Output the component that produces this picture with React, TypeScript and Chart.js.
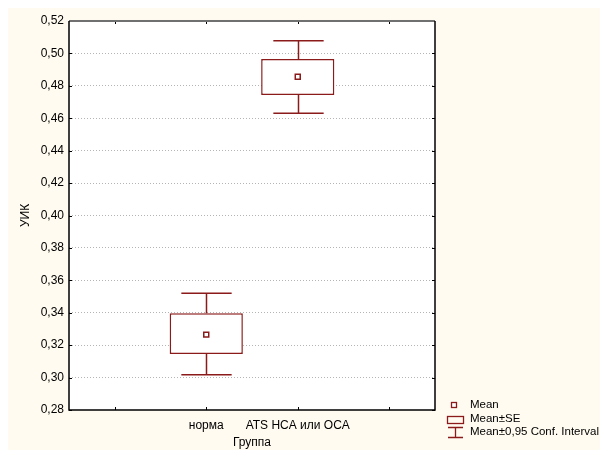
import React, { useEffect, useRef } from "react";
import { Chart, registerables } from "chart.js";

Chart.register(...registerables);

// ---- data ----
const categories = ["", "норма", "ATS HCA или OCA", ""];
const means = [null, 0.3265, 0.4856, null];
const seLow = [null, 0.3145, 0.4743, null];
const seHigh = [null, 0.3397, 0.4965, null];
const ciLow = [null, 0.3018, 0.4631, null];
const ciHigh = [null, 0.352, 0.5078, null];
const yMin = 0.28;
const yMax = 0.52;
const yStep = 0.02;
const legendLabels = ["Mean", "Mean±SE", "Mean±0,95 Conf. Interval"];
const xTitle = "Группа";
const yTitle = "УИК";

const RED = "#8B1A1A";
const FONT = 'Arial, "Liberation Sans", sans-serif';
const BG = "#FFFBF0";

const statPlugin = {
  id: "statPlugin",
  beforeDraw(chart: any) {
    const { ctx, chartArea: a, width, height } = chart;
    ctx.save();
    ctx.fillStyle = BG;
    ctx.fillRect(0, 0, width, height);
    ctx.fillStyle = "#ffffff";
    ctx.fillRect(a.left, a.top, a.right - a.left, a.bottom - a.top);
    ctx.restore();
  },
  afterDatasetsDraw(chart: any) {
    const { ctx } = chart;
    const xs = chart.scales.x;
    const ys = chart.scales.y;
    const catW = (xs.right - xs.left) / categories.length;
    const capHalf = (catW * 0.55) / 2;
    ctx.save();
    ctx.strokeStyle = RED;
    ctx.lineWidth = 1.5;
    for (let i = 0; i < categories.length; i++) {
      if (ciLow[i] == null || ciHigh[i] == null) continue;
      const x = Math.round(xs.getPixelForValue(i)) + 0.5;
      const yHi = ys.getPixelForValue(ciHigh[i]);
      const yLo = ys.getPixelForValue(ciLow[i]);
      const ySeHi = ys.getPixelForValue(seHigh[i]);
      const ySeLo = ys.getPixelForValue(seLow[i]);
      ctx.beginPath();
      ctx.moveTo(x, ySeHi);
      ctx.lineTo(x, yHi);
      ctx.moveTo(x - capHalf, yHi);
      ctx.lineTo(x + capHalf, yHi);
      ctx.moveTo(x, ySeLo);
      ctx.lineTo(x, yLo);
      ctx.moveTo(x - capHalf, yLo);
      ctx.lineTo(x + capHalf, yLo);
      ctx.stroke();
    }
    ctx.restore();
  },
  afterDraw(chart: any) {
    const { ctx, chartArea: a } = chart;
    const xs = chart.scales.x;
    const ys = chart.scales.y;
    ctx.save();
    // inward tick marks
    ctx.strokeStyle = "#000";
    ctx.lineWidth = 1;
    ctx.beginPath();
    for (let i = 0; i < categories.length; i++) {
      const x = Math.round(xs.getPixelForValue(i)) + 0.5;
      ctx.moveTo(x, a.bottom);
      ctx.lineTo(x, a.bottom - 3);
      ctx.moveTo(x, a.top);
      ctx.lineTo(x, a.top + 3);
    }
    ys.ticks.forEach((t: any) => {
      const y = Math.round(ys.getPixelForValue(t.value)) + 0.5;
      ctx.moveTo(a.left, y);
      ctx.lineTo(a.left + 3, y);
      ctx.moveTo(a.right, y);
      ctx.lineTo(a.right - 3, y);
    });
    ctx.stroke();
    // frame
    ctx.strokeStyle = "#707070";
    ctx.lineWidth = 2;
    ctx.beginPath();
    ctx.moveTo(a.left, a.top);
    ctx.lineTo(a.right, a.top);
    ctx.stroke();
    ctx.strokeStyle = "#000";
    ctx.lineWidth = 1.5;
    ctx.beginPath();
    ctx.moveTo(a.left, a.top);
    ctx.lineTo(a.left, a.bottom);
    ctx.lineTo(a.right, a.bottom);
    ctx.lineTo(a.right, a.top);
    ctx.stroke();

    // legend
    const tx = 462;
    const rows = [397, 411, 424];
    ctx.strokeStyle = RED;
    ctx.lineWidth = 1.3;
    ctx.fillStyle = "#fff";
    // Mean marker
    ctx.fillRect(443.5, 394.5, 5, 5);
    ctx.strokeRect(443.5, 394.5, 5, 5);
    // SE box
    ctx.strokeRect(439.5, 408.5, 16, 7);
    // CI whisker
    ctx.beginPath();
    ctx.moveTo(440, 419.5);
    ctx.lineTo(455, 419.5);
    ctx.moveTo(447.5, 419.5);
    ctx.lineTo(447.5, 429.5);
    ctx.moveTo(440, 429.5);
    ctx.lineTo(455, 429.5);
    ctx.stroke();
    ctx.fillStyle = "#000";
    ctx.font = "11.5px " + FONT;
    ctx.textAlign = "left";
    ctx.textBaseline = "middle";
    legendLabels.forEach((l, i) => ctx.fillText(l, tx, rows[i]));
    ctx.restore();
  },
};

export default function App() {
  const ref = useRef<HTMLCanvasElement | null>(null);
  useEffect(() => {
    if (!ref.current) return;
    const chart = new Chart(ref.current, {
      type: "bar",
      data: {
        labels: categories,
        datasets: [
          {
            type: "line",
            label: legendLabels[0],
            data: means as any,
            showLine: false,
            pointStyle: "rect",
            pointRadius: 3.5,
            pointBorderWidth: 1.5,
            pointBackgroundColor: "#fff",
            pointBorderColor: RED,
            order: 0,
          } as any,
          {
            type: "bar",
            label: legendLabels[1],
            data: categories.map((_, i) =>
              seLow[i] == null ? null : [seLow[i], seHigh[i]]
            ) as any,
            backgroundColor: "#fff",
            borderColor: RED,
            borderWidth: 1.5,
            borderSkipped: false,
            barPercentage: 0.8,
            categoryPercentage: 1,
            order: 1,
          } as any,
        ],
      },
      options: {
        animation: false,
        responsive: false,
        events: [],
        layout: { padding: { top: 13, right: 165, left: 0, bottom: 0 } },
        plugins: { legend: { display: false }, tooltip: { enabled: false } },
        scales: {
          x: {
            type: "category",
            offset: true,
            grid: { display: false, drawTicks: false },
            border: { display: false },
            ticks: {
              color: "#000",
              font: { family: FONT, size: 12 },
              padding: 8,
              maxRotation: 0,
              autoSkip: false,
            },
            title: {
              display: true,
              text: xTitle,
              color: "#000",
              font: { family: FONT, size: 12 },
              padding: { top: 0, bottom: 0 },
            },
            afterFit: (s: any) => {
              s.height = 40;
            },
          },
          y: {
            min: yMin,
            max: yMax,
            grid: {
              drawTicks: false,
              color: (c: any) => {
                const v = c.tick ? c.tick.value : 0;
                return Math.abs(v - yMin) < 1e-6 || Math.abs(v - yMax) < 1e-6
                  ? "rgba(0,0,0,0)"
                  : "#b4b4b4";
              },
              lineWidth: 1,
            },
            border: { display: false, dash: [1, 2] },
            ticks: {
              stepSize: yStep,
              color: "#000",
              font: { family: FONT, size: 12 },
              padding: 5,
              callback: (v: any) => Number(v).toFixed(2).replace(".", ","),
            },
            title: {
              display: true,
              text: yTitle,
              color: "#000",
              font: { family: FONT, size: 12 },
              padding: { top: 10, bottom: 0 },
            },
            afterFit: (s: any) => {
              s.width = 61;
            },
          },
        },
      },
      plugins: [statPlugin],
    } as any);
    return () => chart.destroy();
  }, []);
  return (
    <div style={{ position: "fixed", left: 8, top: 8, width: 592, height: 442 }}>
      <canvas ref={ref} width={592} height={442} style={{ width: 592, height: 442, display: "block" }} />
    </div>
  );
}
